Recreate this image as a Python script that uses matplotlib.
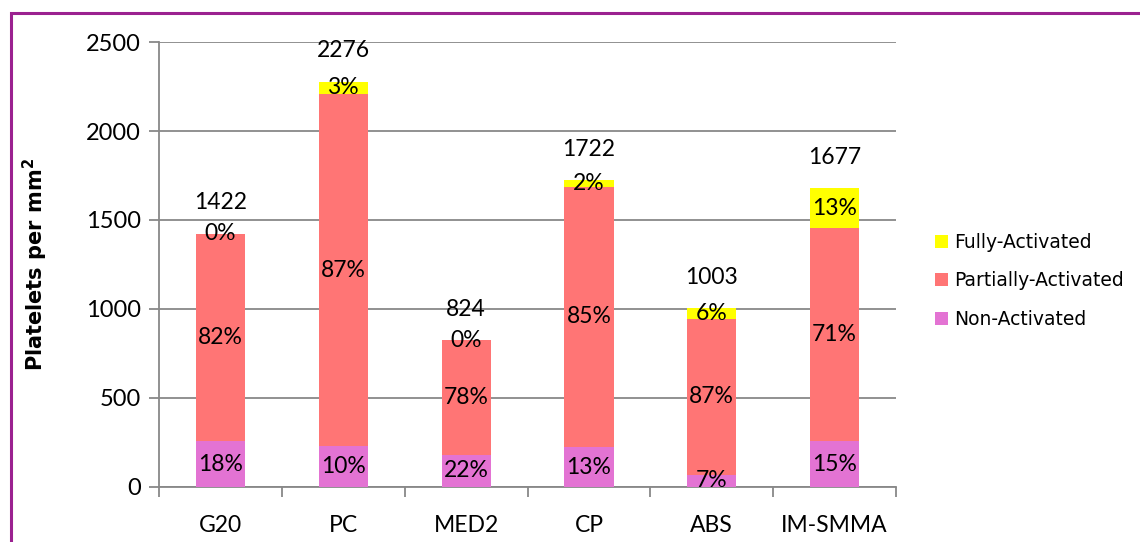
import numpy as np
import matplotlib.pyplot as plt
from matplotlib.patches import Rectangle

materials = ["G20", "PC", "MED2", "CP", "ABS", "IM-SMMA"]
non_activated = [256, 228, 181, 224, 70, 257]
partially_activated = [1166, 1980, 643, 1464, 873, 1198]
fully_activated = [0, 68, 0, 34, 60, 222]

c_full = '#FFFF00'
c_part = '#FF7575'
c_non = '#E373D3'

fig = plt.figure(figsize=(11.4, 5.42), dpi=100)
ax = fig.add_axes([0.1395, 0.1015, 0.6465, 0.821])

# purple frame round the chart
fig.patches.append(Rectangle((0.0097, -0.1), 1.2, 1.076, transform=fig.transFigure,
                             fill=False, edgecolor='#9B2190', linewidth=2.2))

non = np.array(non_activated)
part = np.array(partially_activated)
full = np.array(fully_activated)
total = non + part + full
X = np.arange(len(materials))
w = 0.4

b1 = ax.bar(X, non, w, color=c_non, label='Non-Activated', zorder=3)
b2 = ax.bar(X, part, w, bottom=non, color=c_part, label='Partially-Activated', zorder=3)
b3 = ax.bar(X, full, w, bottom=non + part, color=c_full, label='Fully-Activated', zorder=3)

lab_font = dict(family='Lato', fontsize=16.5, ha='center', va='center', zorder=5)
for i in X:
    bottoms = [0, non[i], non[i] + part[i]]
    for seg, b in zip([non[i], part[i], full[i]], bottoms):
        pct = round(100 * seg / total[i])
        ax.text(i, b + seg / 2, f"{pct}%", **lab_font)
    ax.text(i, total[i] + 175, str(total[i]), **lab_font)

ax.set_xlim(-0.5, len(materials) - 0.5)
ax.set_ylim(0, 2500)
ax.set_yticks(np.arange(0, 2501, 500))
ax.set_xticks(X)
ax.set_xticklabels(materials, family='Lato', fontsize=16.5)
ax.set_xticks(np.arange(-0.5, len(materials)), minor=True)
ax.tick_params(axis='x', which='major', length=0, pad=20)
ax.tick_params(axis='x', which='minor', length=7, color='#888888', width=1.3)
ax.tick_params(axis='y', length=7, color='#888888', width=1.3, pad=6)
for t in ax.get_yticklabels():
    t.set_family('Lato')
    t.set_fontsize(17)

ax.grid(axis='y', color='#888888', linewidth=1.3, zorder=0)
for s in ['top', 'right']:
    ax.spines[s].set_visible(False)
for s in ['left', 'bottom']:
    ax.spines[s].set_color('#888888')
    ax.spines[s].set_linewidth(1.3)

ax.set_ylabel('Platelets per mm$^{\\mathbf{2}}$', fontsize=15, fontweight='bold',
              family='DejaVu Sans', labelpad=26)

ax.legend(handles=[b3, b2, b1], loc='center left', bbox_to_anchor=(1.03, 0.463),
          frameon=False, fontsize=13.5, handlelength=0.7, handleheight=0.7,
          handletextpad=0.3, labelspacing=1.05)

fig.savefig('out.png', dpi=100)
